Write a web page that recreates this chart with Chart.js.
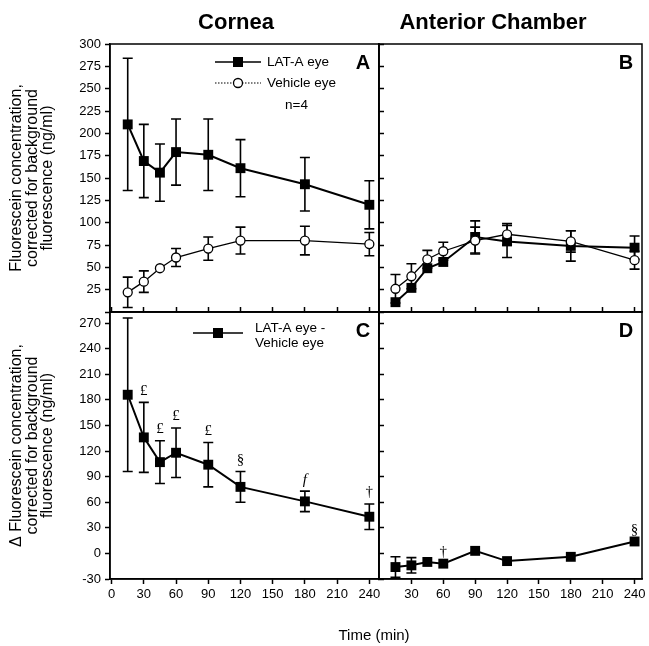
<!DOCTYPE html>
<html lang="en">
<head>
<meta charset="UTF-8">
<title>Fluorescein concentration – cornea and anterior chamber</title>
<script src="https://cdn.jsdelivr.net/npm/chart.js"></script>
<style>
  body { margin: 0; background: #fff; }
  #wrap { position: relative; width: 649px; height: 646px; font-family: "Liberation Sans", Arial, sans-serif; }
  #wrap canvas { position: absolute; left: 0; top: 0; }
  .lbl { position: absolute; color: #000; white-space: nowrap; transform: translate(-50%, -50%); }
</style>
</head>
<body>
<div id="wrap">
  <canvas id="chartA" width="649" height="646"></canvas>
  <canvas id="chartB" width="649" height="646"></canvas>
  <canvas id="chartC" width="649" height="646"></canvas>
  <canvas id="chartD" width="649" height="646"></canvas>
  <div class="lbl" style="left:236px; top:22px; font-size:22px; font-weight:bold;">Cornea</div>
  <div class="lbl" style="left:493px; top:22px; font-size:22px; font-weight:bold;">Anterior Chamber</div>
  <div class="lbl" style="left:374px; top:634px; font-size:15px;">Time (min)</div>
</div>

<script>
// sampling times (min)
const times = [15, 30, 45, 60, 90, 120, 180, 240];

// A: cornea
const corneaLat = [210, 169, 156, 179, 176, 161, 143, 120];
const corneaLatErr = [74, 41, 32, 37, 40, 32, 30, 27];
const corneaVeh = [22, 34, 49, 61, 71, 80, 80, 76];
const corneaVehErr = [17, 12, 0, 10, 13, 15, 16, 13];

// B: anterior chamber
const chamberLat = [11, 27, 49, 56, 84, 79, 74, 72];
const chamberLatErr = [0, 0, 0, 0, 18, 18, 17, 13];
const chamberVeh = [26, 40, 59, 68, 80, 87, 79, 58];
const chamberVehErr = [16, 14, 10, 10, 15, 12, 12, 10];

// C, D: LAT-A eye minus vehicle eye
const corneaDiff = [186, 136, 107, 118, 104, 78, 61, 43];
const corneaDiffErr = [90, 41, 25, 29, 26, 18, 12, 15];
const corneaMarks = ['', '£', '£', '£', '£', '§', 'f', '†'];
const chamberDiff = [-16, -14, -10, -12, 3, -9, -4, 14];
const chamberDiffErr = [12, 9, 0, 0, 0, 0, 0, 0];
const chamberMarks = ['', '', '', '†', '', '', '', '§'];

// axis ticks
const xTicks = [0, 30, 60, 90, 120, 150, 180, 210, 240];
const xTicksRight = [30, 60, 90, 120, 150, 180, 210, 240];
const yTicksTop = [0, 25, 50, 75, 100, 125, 150, 175, 200, 225, 250, 275, 300];
const yTicksBottom = [-30, 0, 30, 60, 90, 120, 150, 180, 210, 240, 270];

const titleTop = ['Fluorescein concentration,', 'corrected for background', 'fluorescence (ng/ml)'];
const titleBottom = ['\u0394 Fluorescein concentration,', 'corrected for background', 'fluorescence (ng/ml)'];

Chart.defaults.font.family = '"Liberation Sans", Arial, sans-serif';
Chart.defaults.color = '#000';

const pts = (vals) => times.map((t, i) => ({ x: t, y: vals[i] }));

// error bars, drawn under the markers
const errorBars = {
  id: 'errorBars',
  beforeDatasetsDraw(chart) {
    const ctx = chart.ctx;
    const xs = chart.scales.x, ys = chart.scales.y;
    ctx.save();
    ctx.strokeStyle = '#000';
    ctx.lineWidth = 1.6;
    chart.data.datasets.forEach(ds => {
      if (!ds.errors) return;
      ds.data.forEach((p, i) => {
        const e = ds.errors[i];
        if (!e) return;
        const x = xs.getPixelForValue(p.x);
        const y1 = ys.getPixelForValue(p.y + e);
        const y2 = ys.getPixelForValue(p.y - e);
        ctx.beginPath();
        ctx.moveTo(x, y1); ctx.lineTo(x, y2);
        ctx.moveTo(x - 5, y1); ctx.lineTo(x + 5, y1);
        ctx.moveTo(x - 5, y2); ctx.lineTo(x + 5, y2);
        ctx.stroke();
      });
    });
    ctx.restore();
  }
};

// significance marks, frame, panel letter and in-panel legend
const panelText = {
  id: 'panelText',
  afterDraw(chart, args, opts) {
    const ctx = chart.ctx;
    const a = chart.chartArea;
    const xs = chart.scales.x, ys = chart.scales.y;
    ctx.save();
    ctx.strokeStyle = '#000';
    ctx.lineWidth = 1.5;
    ctx.strokeRect(a.left, a.top, a.right - a.left, a.bottom - a.top);

    ctx.fillStyle = '#000';
    ctx.font = 'bold 20px "Liberation Sans", Arial, sans-serif';
    ctx.textAlign = 'center';
    ctx.textBaseline = 'middle';
    ctx.fillText(opts.letter, a.right - 16, a.top + 19);

    const ds = chart.data.datasets[0];
    if (opts.marks) {
      ds.data.forEach((p, i) => {
        const m = opts.marks[i];
        if (!m) return;
        const top = p.y + (ds.errors[i] || 0);
        ctx.font = (m === 'f' ? 'italic ' : '') + '15px "Liberation Serif", "Times New Roman", serif';
        ctx.textBaseline = 'bottom';
        ctx.fillText(m, xs.getPixelForValue(p.x), ys.getPixelForValue(top) - 4);
      });
    }

    (opts.legend || []).forEach(item => {
      const lx = a.left + item.dx, ly = a.top + item.dy;
      ctx.beginPath();
      ctx.lineWidth = item.lineWidth;
      ctx.setLineDash(item.dash || []);
      ctx.moveTo(lx, ly); ctx.lineTo(lx + item.len, ly);
      ctx.stroke();
      ctx.setLineDash([]);
      ctx.lineWidth = 1.3;
      const mx = lx + item.len / 2;
      if (item.marker === 'rect') {
        ctx.fillRect(mx - 5, ly - 5, 10, 10);
      } else {
        ctx.beginPath();
        ctx.fillStyle = '#fff';
        ctx.arc(mx, ly, 4.5, 0, Math.PI * 2);
        ctx.fill(); ctx.stroke();
        ctx.fillStyle = '#000';
      }
      ctx.font = '13.5px "Liberation Sans", Arial, sans-serif';
      ctx.textAlign = 'left';
      ctx.textBaseline = 'middle';
      item.text.forEach((t, k) => ctx.fillText(t, lx + item.len + item.gap, ly + item.textDy + k * 15));
    });
    if (opts.note) {
      ctx.font = '13.5px "Liberation Sans", Arial, sans-serif';
      ctx.textAlign = 'left';
      ctx.fillText(opts.note, a.left + 175, a.top + 61);
    }
    ctx.restore();
  }
};

function latSet(label, vals, errs) {
  return { label, data: pts(vals), errors: errs, borderColor: '#000', borderWidth: 2,
    pointStyle: 'rect', pointRadius: 7, pointBackgroundColor: '#000', pointBorderWidth: 0 };
}
function vehSet(label, vals, errs) {
  return { label, data: pts(vals), errors: errs, borderColor: '#000', borderWidth: 1.3,
    pointStyle: 'circle', pointRadius: 4.5, pointBackgroundColor: '#fff', pointBorderColor: '#000', pointBorderWidth: 1.3 };
}

function makePanel(id, p) {
  const inward = p.inward;
  new Chart(document.getElementById(id), {
    type: 'line',
    data: { datasets: p.datasets },
    options: {
      responsive: false,
      animation: false,
      layout: { padding: p.padding },
      plugins: { legend: { display: false }, tooltip: { enabled: false }, panelText: p.text },
      scales: {
        x: {
          type: 'linear', min: p.xMin, max: p.xMax,
          border: { color: '#000', width: 1.5 },
          grid: { drawOnChartArea: false, tickLength: inward ? -5 : 5, tickWidth: 1.5, tickColor: '#000' },
          ticks: { display: !inward, font: { size: 13 }, padding: 3, maxRotation: 0 },
          afterBuildTicks: s => { s.ticks = p.xTicks.map(v => ({ value: v })); },
          afterFit: s => { s.height = inward ? 0 : 20; s.paddingLeft = 0; s.paddingRight = 0; }
        },
        y: {
          type: 'linear', min: p.yMin, max: p.yMax,
          border: { color: '#000', width: 1.5 },
          grid: { drawOnChartArea: false, tickLength: p.yTitle ? 5 : -5, tickWidth: 1.5, tickColor: '#000' },
          ticks: { display: !!p.yTitle, font: { size: 13 }, padding: 4,
            callback: v => (v === 0 && p.hideZero) ? '' : v },
          afterBuildTicks: s => { s.ticks = p.yTicks.map(v => ({ value: v })); },
          title: { display: !!p.yTitle, text: p.yTitle, font: { size: 16, lineHeight: 0.97 }, padding: { top: 9 } },
          afterFit: s => { s.width = p.yTitle ? 110 : 0; s.paddingTop = 0; s.paddingBottom = 0; }
        }
      }
    },
    plugins: [errorBars, panelText]
  });
}

makePanel('chartA', {
  padding: { left: 0, top: 44, right: 270, bottom: 334 },
  xMin: -1.5, xMax: 249, yMin: 0, yMax: 300, xTicks: xTicks, yTicks: yTicksTop,
  inward: true, yTitle: titleTop, hideZero: true,
  datasets: [latSet('LAT-A eye', corneaLat, corneaLatErr), vehSet('Vehicle eye', corneaVeh, corneaVehErr)],
  text: { letter: 'A', note: 'n=4', legend: [
    { dx: 105, dy: 18, len: 46, gap: 6, lineWidth: 1.5, marker: 'rect', text: ['LAT-A eye'], textDy: 0 },
    { dx: 105, dy: 39, len: 46, gap: 6, lineWidth: 1.2, dash: [1.5, 1.5], marker: 'circle', text: ['Vehicle eye'], textDy: 0 }
  ] }
});

makePanel('chartB', {
  padding: { left: 379, top: 44, right: 5, bottom: 334 },
  xMin: -0.5, xMax: 247, yMin: 0, yMax: 300, xTicks: xTicksRight, yTicks: yTicksTop,
  inward: true,
  datasets: [vehSet('Vehicle eye', chamberVeh, chamberVehErr), latSet('LAT-A eye', chamberLat, chamberLatErr)],
  text: { letter: 'B' }
});

makePanel('chartC', {
  padding: { left: 0, top: 312, right: 270, bottom: 47 },
  xMin: -1.5, xMax: 249, yMin: -30, yMax: 283, xTicks: xTicks, yTicks: yTicksBottom,
  inward: false, yTitle: titleBottom,
  datasets: [latSet('LAT-A eye - Vehicle eye', corneaDiff, corneaDiffErr)],
  text: { letter: 'C', marks: corneaMarks, legend: [
    { dx: 83, dy: 21, len: 50, gap: 12, lineWidth: 1.5, marker: 'rect', text: ['LAT-A eye -', 'Vehicle eye'], textDy: -5 }
  ] }
});

makePanel('chartD', {
  padding: { left: 379, top: 312, right: 5, bottom: 47 },
  xMin: -0.5, xMax: 247, yMin: -30, yMax: 283, xTicks: xTicksRight, yTicks: yTicksBottom,
  inward: false,
  datasets: [latSet('LAT-A eye - Vehicle eye', chamberDiff, chamberDiffErr)],
  text: { letter: 'D', marks: chamberMarks }
});
</script>
</body>
</html>
